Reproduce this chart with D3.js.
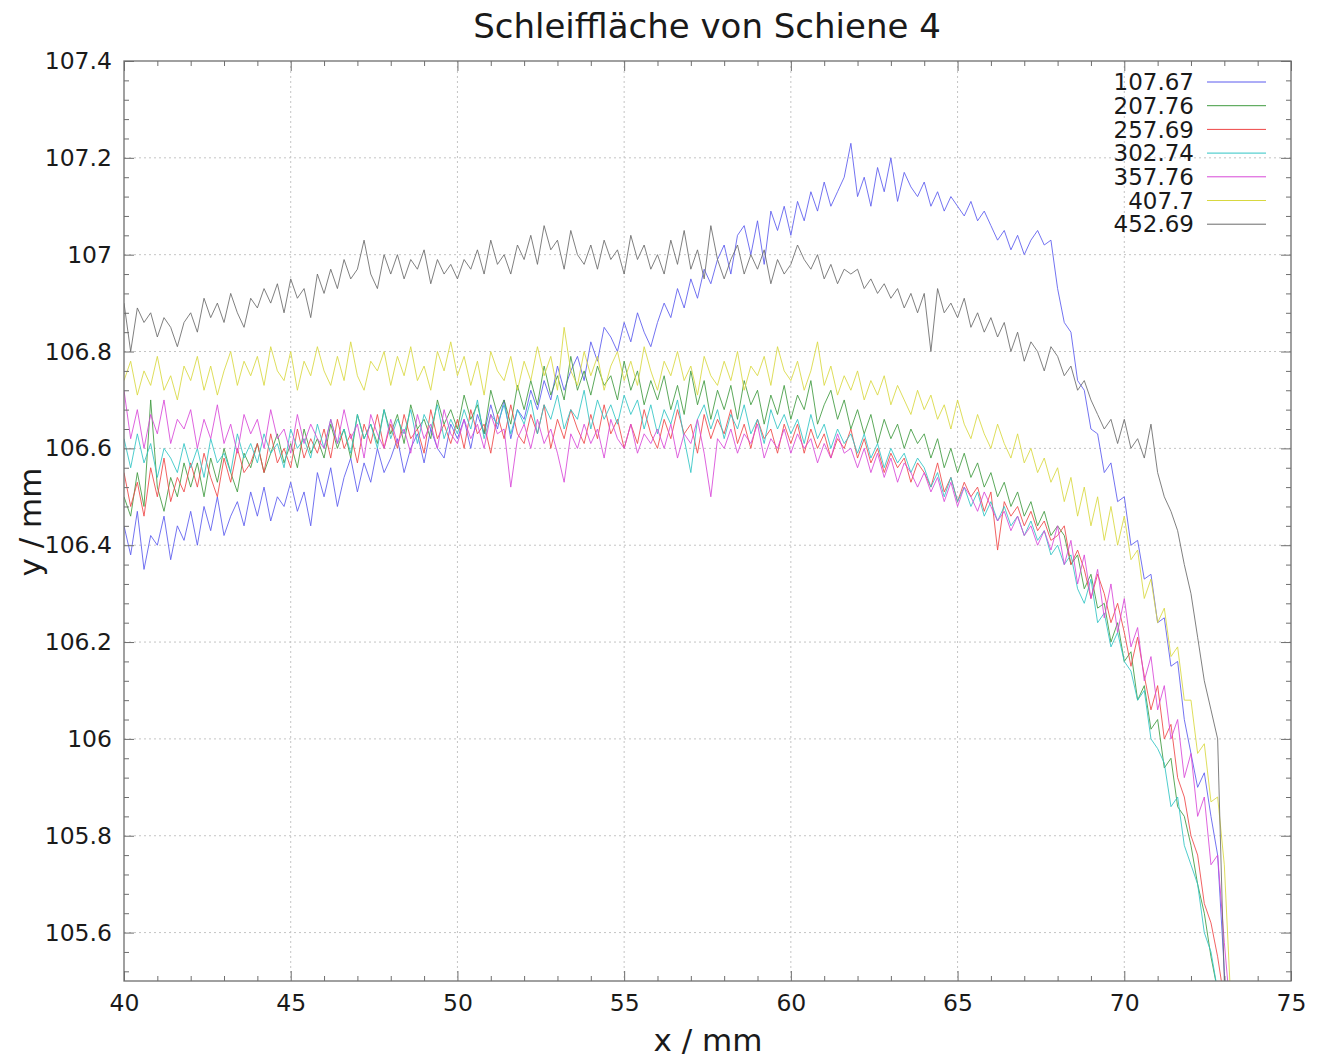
<!DOCTYPE html>
<html>
<head>
<meta charset="utf-8">
<script src="https://cdn.jsdelivr.net/npm/d3@7"></script>
<style>
  body { margin: 0; background: #fff; }
  text { font-family: "DejaVu Sans", sans-serif; fill: #1a1a1a; }
</style>
</head>
<body>
<div class="chart"></div>
<script>
// Schleifflaeche von Schiene 4 - profile measurements, sampled every 0.2 mm from 40 mm
var xStart = 40;
var xStep = 0.2;

var labels = ["107.67", "207.76", "257.69", "302.74", "357.76", "407.7", "452.69"];
var colors = ["#5a5aee", "#3f9a3f", "#ee4646", "#30c4c4", "#d848d8", "#d8d840", "#6a6a6a"];

var y107_67 = [
  106.44, 106.38, 106.47, 106.35, 106.42, 106.40, 106.46, 106.37, 106.44, 106.41,
  106.47, 106.40, 106.48, 106.43, 106.50, 106.42, 106.46, 106.49, 106.44, 106.51,
  106.46, 106.52, 106.45, 106.50, 106.48, 106.53, 106.47, 106.51, 106.44, 106.55,
  106.50, 106.56, 106.48, 106.54, 106.58, 106.51, 106.57, 106.53, 106.60, 106.55,
  106.58, 106.62, 106.55, 106.60, 106.63, 106.57, 106.64, 106.60, 106.58, 106.65,
  106.62, 106.66, 106.60, 106.67, 106.63, 106.69, 106.64, 106.70, 106.62, 106.68,
  106.66, 106.72, 106.68, 106.74, 106.70, 106.77, 106.72, 106.76, 106.79, 106.74,
  106.82, 106.78, 106.85, 106.83, 106.80, 106.86, 106.82, 106.88, 106.84, 106.81,
  106.86, 106.90, 106.87, 106.93, 106.89, 106.95, 106.91, 106.97, 106.94, 106.99,
  107.02, 106.96, 107.04, 107.06, 107.00, 107.07, 106.98, 107.09, 107.05, 107.10,
  107.04, 107.11, 107.07, 107.13, 107.09, 107.15, 107.10, 107.13, 107.16, 107.23,
  107.12, 107.16, 107.10, 107.18, 107.13, 107.20, 107.11, 107.17, 107.14, 107.12,
  107.15, 107.10, 107.13, 107.09, 107.12, 107.10, 107.08, 107.11, 107.07, 107.09,
  107.06, 107.03, 107.05, 107.01, 107.04, 107.00, 107.03, 107.05, 107.02, 107.03,
  106.93, 106.86, 106.84, 106.74, 106.72, 106.64, 106.63, 106.55, 106.57, 106.49,
  106.50, 106.40, 106.41, 106.33, 106.34, 106.24, 106.25, 106.15, 106.16, 106.04,
  105.97, 105.90, 105.93, 105.84, 105.76, 105.52, 105.30
];

var y207_76 = [
  106.50, 106.46, 106.55, 106.48, 106.70, 106.52, 106.47, 106.54, 106.50, 106.57,
  106.52, 106.57, 106.50, 106.58, 106.53, 106.60, 106.55, 106.51, 106.59, 106.56,
  106.61, 106.55, 106.59, 106.63, 106.57, 106.61, 106.56, 106.64, 106.59, 106.62,
  106.58, 106.65, 106.60, 106.64, 106.58, 106.67, 106.62, 106.65, 106.61, 106.68,
  106.63, 106.67, 106.61, 106.69, 106.64, 106.66, 106.62, 106.70, 106.65, 106.68,
  106.64, 106.71, 106.66, 106.69, 106.63, 106.72, 106.67, 106.70, 106.65, 106.73,
  106.68, 106.74, 106.69, 106.77, 106.71, 106.75, 106.70, 106.79, 106.72, 106.76,
  106.71, 106.77, 106.73, 106.75, 106.70, 106.78, 106.72, 106.76, 106.69, 106.74,
  106.70, 106.75, 106.68, 106.73, 106.67, 106.76, 106.69, 106.74, 106.66, 106.72,
  106.68, 106.73, 106.66, 106.74, 106.69, 106.72, 106.65, 106.71, 106.67, 106.73,
  106.66, 106.71, 106.68, 106.74, 106.65, 106.69, 106.72, 106.66, 106.70, 106.64,
  106.68, 106.63, 106.67, 106.61, 106.66, 106.62, 106.65, 106.60, 106.64, 106.61,
  106.63, 106.58, 106.62, 106.56, 106.60, 106.55, 106.59, 106.54, 106.57, 106.52,
  106.55, 106.50, 106.53, 106.48, 106.51, 106.46, 106.49, 106.44, 106.47, 106.42,
  106.44, 106.42, 106.36, 106.38, 106.31, 106.34, 106.27, 106.28, 106.20, 106.24,
  106.16, 106.18, 106.08, 106.11, 106.02, 106.04, 105.94, 105.96, 105.86, 105.84,
  105.78, 105.70, 105.64, 105.55, 105.48, 105.35, 105.25
];

var y257_69 = [
  106.55, 106.48, 106.53, 106.46, 106.56, 106.50, 106.58, 106.49, 106.54, 106.51,
  106.57, 106.52, 106.59, 106.54, 106.50, 106.58, 106.53, 106.60, 106.55, 106.57,
  106.61, 106.55, 106.63, 106.57, 106.60, 106.56, 106.64, 106.58, 106.62, 106.59,
  106.64, 106.58, 106.66, 106.60, 106.63, 106.57, 106.65, 106.61, 106.67, 106.60,
  106.65, 106.60, 106.67, 106.62, 106.64, 106.59, 106.68, 106.62, 106.65, 106.61,
  106.66, 106.60, 106.68, 106.63, 106.65, 106.59, 106.67, 106.62, 106.69, 106.63,
  106.61, 106.67, 106.63, 106.69, 106.60, 106.66, 106.62, 106.68, 106.64, 106.61,
  106.67, 106.62, 106.69, 106.63, 106.66, 106.60, 106.65, 106.61, 106.68, 106.63,
  106.60, 106.66, 106.62, 106.68, 106.63, 106.65, 106.59, 106.67, 106.62, 106.66,
  106.63, 106.68, 106.61, 106.65, 106.60, 106.66, 106.62, 106.64, 106.59, 106.65,
  106.61, 106.65, 106.59, 106.64, 106.60, 106.63, 106.58, 106.62, 106.60, 106.64,
  106.58, 106.62, 106.57, 106.60, 106.55, 106.59, 106.56, 106.58, 106.53, 106.57,
  106.55, 106.52, 106.57, 106.51, 106.54, 106.49, 106.53, 106.50, 106.52, 106.47,
  106.51, 106.39, 106.49, 106.46, 106.48, 106.44, 106.47, 106.43, 106.45, 106.41,
  106.42, 106.44, 106.36, 106.39, 106.35, 106.29, 106.34, 106.30, 106.24, 106.28,
  106.22, 106.15, 106.21, 106.13, 106.06, 106.11, 106.00, 106.03, 105.92, 105.88,
  105.80, 105.76, 105.66, 105.62, 105.55, 105.46, 105.35
];

var y302_74 = [
  106.62, 106.56, 106.63, 106.57, 106.61, 106.54, 106.60, 106.58, 106.55, 106.61,
  106.56, 106.60, 106.54, 106.62, 106.57, 106.59, 106.55, 106.63, 106.58, 106.61,
  106.57, 106.63, 106.59, 106.61, 106.56, 106.64, 106.60, 106.62, 106.58, 106.65,
  106.60, 106.66, 106.61, 106.64, 106.59, 106.67, 106.62, 106.65, 106.60, 106.68,
  106.62, 106.66, 106.63, 106.68, 106.61, 106.67, 106.64, 106.69, 106.62, 106.66,
  106.63, 106.68, 106.64, 106.70, 106.62, 106.67, 106.65, 106.69, 106.63, 106.68,
  106.65, 106.70, 106.63, 106.69, 106.66, 106.71, 106.64, 106.68, 106.66, 106.72,
  106.64, 106.70, 106.66, 106.69, 106.65, 106.71, 106.67, 106.70, 106.64, 106.69,
  106.63, 106.68, 106.65, 106.70, 106.62, 106.55, 106.66, 106.69, 106.64, 106.68,
  106.62, 106.67, 106.64, 106.69, 106.63, 106.66, 106.61, 106.68, 106.64, 106.67,
  106.63, 106.66, 106.61, 106.67, 106.62, 106.65, 106.60, 106.64, 106.61, 106.63,
  106.59, 106.63, 106.58, 106.61, 106.56, 106.60, 106.57, 106.59, 106.55, 106.58,
  106.56, 106.52, 106.55, 106.50, 106.54, 106.49, 106.52, 106.48, 106.51, 106.46,
  106.49, 106.45, 106.48, 106.44, 106.46, 106.42, 106.45, 106.41, 106.43, 106.38,
  106.40, 106.36, 106.38, 106.31, 106.28, 106.33, 106.24, 106.26, 106.19, 106.22,
  106.16, 106.14, 106.08, 106.10, 106.00, 105.98, 105.95, 105.86, 105.88, 105.78,
  105.74, 105.70, 105.60, 105.56, 105.48, 105.40, 105.30
];

var y357_76 = [
  106.72, 106.62, 106.68, 106.60, 106.67, 106.63, 106.70, 106.61, 106.66, 106.64,
  106.68, 106.60, 106.66, 106.62, 106.69, 106.61, 106.65, 106.59, 106.67, 106.63,
  106.66, 106.60, 106.68, 106.62, 106.64, 106.59, 106.67, 106.61, 106.65, 106.62,
  106.60, 106.66, 106.61, 106.68, 106.62, 106.65, 106.58, 106.67, 106.63, 106.60,
  106.66, 106.61, 106.64, 106.59, 106.67, 106.62, 106.65, 106.60, 106.68, 106.63,
  106.61, 106.66, 106.62, 106.65, 106.60, 106.67, 106.63, 106.64, 106.52, 106.62,
  106.65, 106.60, 106.66, 106.61, 106.64, 106.59, 106.53, 106.63, 106.60, 106.65,
  106.61, 106.64, 106.58, 106.66, 106.62, 106.60, 106.65, 106.59, 106.63, 106.61,
  106.64, 106.60, 106.65, 106.58, 106.63, 106.61, 106.66, 106.59, 106.50, 106.62,
  106.60, 106.64, 106.59, 106.63, 106.61, 106.65, 106.58, 106.62, 106.60, 106.64,
  106.59, 106.63, 106.60, 106.62, 106.57, 106.61, 106.58, 106.63, 106.59, 106.60,
  106.56, 106.60, 106.55, 106.59, 106.54, 106.58, 106.53, 106.57, 106.55, 106.52,
  106.55, 106.51, 106.54, 106.49, 106.53, 106.48, 106.52, 106.50, 106.47, 106.51,
  106.48, 106.45, 106.47, 106.43, 106.46, 106.42, 106.44, 106.40, 106.43, 106.39,
  106.44, 106.36, 106.41, 106.32, 106.38, 106.29, 106.35, 106.25, 106.32, 106.22,
  106.29, 106.19, 106.23, 106.12, 106.17, 106.06, 106.11, 106.00, 106.04, 105.92,
  105.97, 105.84, 105.88, 105.74, 105.76, 105.58, 105.42
];

var y407_7 = [
  106.74, 106.78, 106.71, 106.76, 106.73, 106.79, 106.72, 106.75, 106.70, 106.77,
  106.74, 106.79, 106.72, 106.77, 106.71, 106.76, 106.80, 106.73, 106.78, 106.75,
  106.79, 106.73, 106.81, 106.76, 106.74, 106.80, 106.72, 106.78, 106.75, 106.81,
  106.76, 106.73, 106.79, 106.74, 106.82, 106.75, 106.72, 106.78, 106.76, 106.80,
  106.73, 106.79, 106.75, 106.81, 106.74, 106.77, 106.72, 106.80, 106.76, 106.82,
  106.75, 106.79, 106.73, 106.78, 106.71, 106.80, 106.76, 106.74, 106.79, 106.72,
  106.78, 106.74, 106.81, 106.75, 106.79, 106.72, 106.85, 106.76, 106.73, 106.80,
  106.75, 106.79, 106.72, 106.77, 106.80, 106.74, 106.78, 106.73, 106.81, 106.76,
  106.72, 106.78, 106.75, 106.80, 106.74, 106.77, 106.71, 106.79, 106.75, 106.73,
  106.78, 106.74, 106.80, 106.72, 106.77, 106.75, 106.79, 106.73, 106.81, 106.76,
  106.74, 106.78, 106.72, 106.76, 106.82, 106.73, 106.77, 106.71, 106.75, 106.72,
  106.76, 106.70, 106.74, 106.71, 106.75, 106.69, 106.73, 106.70, 106.67, 106.72,
  106.68, 106.71, 106.66, 106.69, 106.64, 106.70, 106.65, 106.62, 106.67, 106.63,
  106.60, 106.65, 106.61, 106.58, 106.63, 106.57, 106.60, 106.55, 106.58, 106.53,
  106.56, 106.49, 106.54, 106.46, 106.52, 106.44, 106.50, 106.41, 106.48, 106.40,
  106.46, 106.37, 106.39, 106.29, 106.33, 106.24, 106.27, 106.17, 106.19, 106.08,
  106.08, 105.97, 105.99, 105.87, 105.88, 105.74, 105.45
];

var y452_69 = [
  106.90, 106.80, 106.89, 106.86, 106.88, 106.83, 106.87, 106.85, 106.81, 106.86,
  106.88, 106.84, 106.91, 106.87, 106.90, 106.86, 106.92, 106.88, 106.85, 106.91,
  106.89, 106.93, 106.90, 106.94, 106.88, 106.95, 106.91, 106.93, 106.87, 106.96,
  106.92, 106.97, 106.93, 106.99, 106.95, 106.97, 107.03, 106.96, 106.93, 107.00,
  106.96, 107.00, 106.95, 106.99, 106.97, 107.01, 106.94, 106.99, 106.96, 106.98,
  106.95, 106.99, 106.97, 107.01, 106.96, 107.03, 106.98, 107.00, 106.96, 107.02,
  106.99, 107.04, 106.98, 107.06, 107.01, 107.03, 106.97, 107.05, 107.00, 106.98,
  107.02, 106.97, 107.03, 106.99, 107.01, 106.96, 107.04, 106.99, 107.02, 106.97,
  107.00, 106.96, 107.03, 106.98, 107.05, 106.97, 107.01, 106.95, 107.06, 106.99,
  106.95, 106.99, 107.02, 106.96, 107.00, 106.97, 107.01, 106.94, 106.99, 106.96,
  106.98, 107.02, 106.99, 106.97, 107.00, 106.95, 106.98, 106.94, 106.97, 106.96,
  106.97, 106.93, 106.95, 106.92, 106.94, 106.91, 106.93, 106.89, 106.92, 106.88,
  106.92, 106.80, 106.93, 106.88, 106.90, 106.87, 106.91, 106.85, 106.88, 106.84,
  106.87, 106.83, 106.86, 106.80, 106.84, 106.78, 106.82, 106.80, 106.76, 106.81,
  106.79, 106.75, 106.77, 106.72, 106.74, 106.70, 106.67, 106.64, 106.66, 106.61,
  106.66, 106.60, 106.62, 106.58, 106.65, 106.55, 106.50, 106.47, 106.43, 106.36,
  106.30, 106.21, 106.12, 106.06, 106.00, 105.50, 105.30
];

var seriesValues = [y107_67, y207_76, y257_69, y302_74, y357_76, y407_7, y452_69];

var xMajorTicks = [40, 45, 50, 55, 60, 65, 70, 75];
var yMajorTicks = [105.6, 105.8, 106, 106.2, 106.4, 106.6, 106.8, 107, 107.2, 107.4];

var svgWidth = 1319;
var svgHeight = 1059;

var margin = { top: 61, right: 28, bottom: 78, left: 124 };
var width = svgWidth - margin.left - margin.right;
var height = svgHeight - margin.top - margin.bottom;

var svg = d3.select(".chart")
  .append("svg")
  .attr("width", svgWidth)
  .attr("height", svgHeight);

var chartGroup = svg.append("g")
  .attr("transform", `translate(${margin.left}, ${margin.top})`);

var xScale = d3.scaleLinear().domain([40, 75]).range([0, width]);
var yScale = d3.scaleLinear().domain([105.5, 107.4]).range([height, 0]);

var xMinor = d3.range(41, 75, 1).filter(d => d % 5 !== 0);
var yMinor = d3.range(0, 48).map(i => 105.52 + i * 0.04).filter(d => Math.abs(d * 5 - Math.round(d * 5)) > 0.01);

// grid
chartGroup.append("g").selectAll("line")
  .data(xMajorTicks.slice(1, -1))
  .enter().append("line")
  .attr("x1", d => xScale(d)).attr("x2", d => xScale(d))
  .attr("y1", 0).attr("y2", height)
  .attr("stroke", "#c4c4c4").attr("stroke-dasharray", "2,3");

chartGroup.append("g").selectAll("line")
  .data(yMajorTicks.slice(0, -1))
  .enter().append("line")
  .attr("y1", d => yScale(d)).attr("y2", d => yScale(d))
  .attr("x1", 0).attr("x2", width)
  .attr("stroke", "#c4c4c4").attr("stroke-dasharray", "2,3");

// lines
chartGroup.append("clipPath").attr("id", "plotclip")
  .append("rect").attr("width", width).attr("height", height);

var line = d3.line()
  .x((d, i) => xScale(xStart + i * xStep))
  .y(d => yScale(d));

chartGroup.append("g").attr("clip-path", "url(#plotclip)")
  .selectAll("path")
  .data(seriesValues)
  .enter().append("path")
  .attr("d", d => line(d))
  .attr("fill", "none")
  .attr("stroke", (d, i) => colors[i])
  .attr("stroke-width", 1)
  .attr("stroke-opacity", 0.85)
  .attr("stroke-linejoin", "round");

// axes, ticks inward on all four sides
function styleAxis(g) {
  g.select(".domain").remove();
  g.selectAll(".tick line").attr("stroke", "#6e6e6e");
  g.selectAll("text").attr("font-size", 23.5).attr("fill", "#1a1a1a")
    .attr("font-family", "DejaVu Sans, sans-serif");
}

var fmt = d => String(+d.toFixed(2));

chartGroup.append("g").attr("transform", `translate(0, ${height})`)
  .call(d3.axisBottom(xScale).tickValues(xMajorTicks).tickFormat(fmt).tickSizeInner(-10).tickSizeOuter(0).tickPadding(13))
  .call(styleAxis);
chartGroup.append("g").attr("transform", `translate(0, ${height})`)
  .call(d3.axisBottom(xScale).tickValues(xMinor).tickFormat("").tickSizeInner(-5).tickSizeOuter(0))
  .call(styleAxis);
chartGroup.append("g")
  .call(d3.axisTop(xScale).tickValues(xMajorTicks).tickFormat("").tickSizeInner(-10).tickSizeOuter(0))
  .call(styleAxis);
chartGroup.append("g")
  .call(d3.axisTop(xScale).tickValues(xMinor).tickFormat("").tickSizeInner(-5).tickSizeOuter(0))
  .call(styleAxis);

chartGroup.append("g")
  .call(d3.axisLeft(yScale).tickValues(yMajorTicks).tickFormat(fmt).tickSizeInner(-10).tickSizeOuter(0).tickPadding(12))
  .call(styleAxis);
chartGroup.append("g")
  .call(d3.axisLeft(yScale).tickValues(yMinor).tickFormat("").tickSizeInner(-5).tickSizeOuter(0))
  .call(styleAxis);
chartGroup.append("g").attr("transform", `translate(${width}, 0)`)
  .call(d3.axisRight(yScale).tickValues(yMajorTicks).tickFormat("").tickSizeInner(-10).tickSizeOuter(0))
  .call(styleAxis);
chartGroup.append("g").attr("transform", `translate(${width}, 0)`)
  .call(d3.axisRight(yScale).tickValues(yMinor).tickFormat("").tickSizeInner(-5).tickSizeOuter(0))
  .call(styleAxis);

// border
chartGroup.append("rect")
  .attr("width", width).attr("height", height)
  .attr("fill", "none").attr("stroke", "#6e6e6e").attr("stroke-width", 1.3);

// legend
var legend = chartGroup.append("g").selectAll("g")
  .data(labels)
  .enter().append("g")
  .attr("transform", (d, i) => `translate(0, ${21 + i * 23.7})`);

legend.append("text")
  .attr("x", 1194 - margin.left)
  .attr("dy", "0.36em")
  .attr("text-anchor", "end")
  .attr("font-size", 23)
  .text(d => d);

legend.append("line")
  .attr("x1", 1207 - margin.left).attr("x2", 1266 - margin.left)
  .attr("stroke", (d, i) => colors[i])
  .attr("stroke-width", 1);

// titles
svg.append("text")
  .attr("x", 707).attr("y", 38)
  .attr("text-anchor", "middle")
  .attr("font-size", 34)
  .text("Schleiffläche von Schiene 4");

svg.append("text")
  .attr("x", 708).attr("y", 1051)
  .attr("text-anchor", "middle")
  .attr("font-size", 31)
  .text("x / mm");

svg.append("text")
  .attr("transform", "translate(41, 522) rotate(-90)")
  .attr("text-anchor", "middle")
  .attr("font-size", 31)
  .text("y / mm");
</script>
</body>
</html>
